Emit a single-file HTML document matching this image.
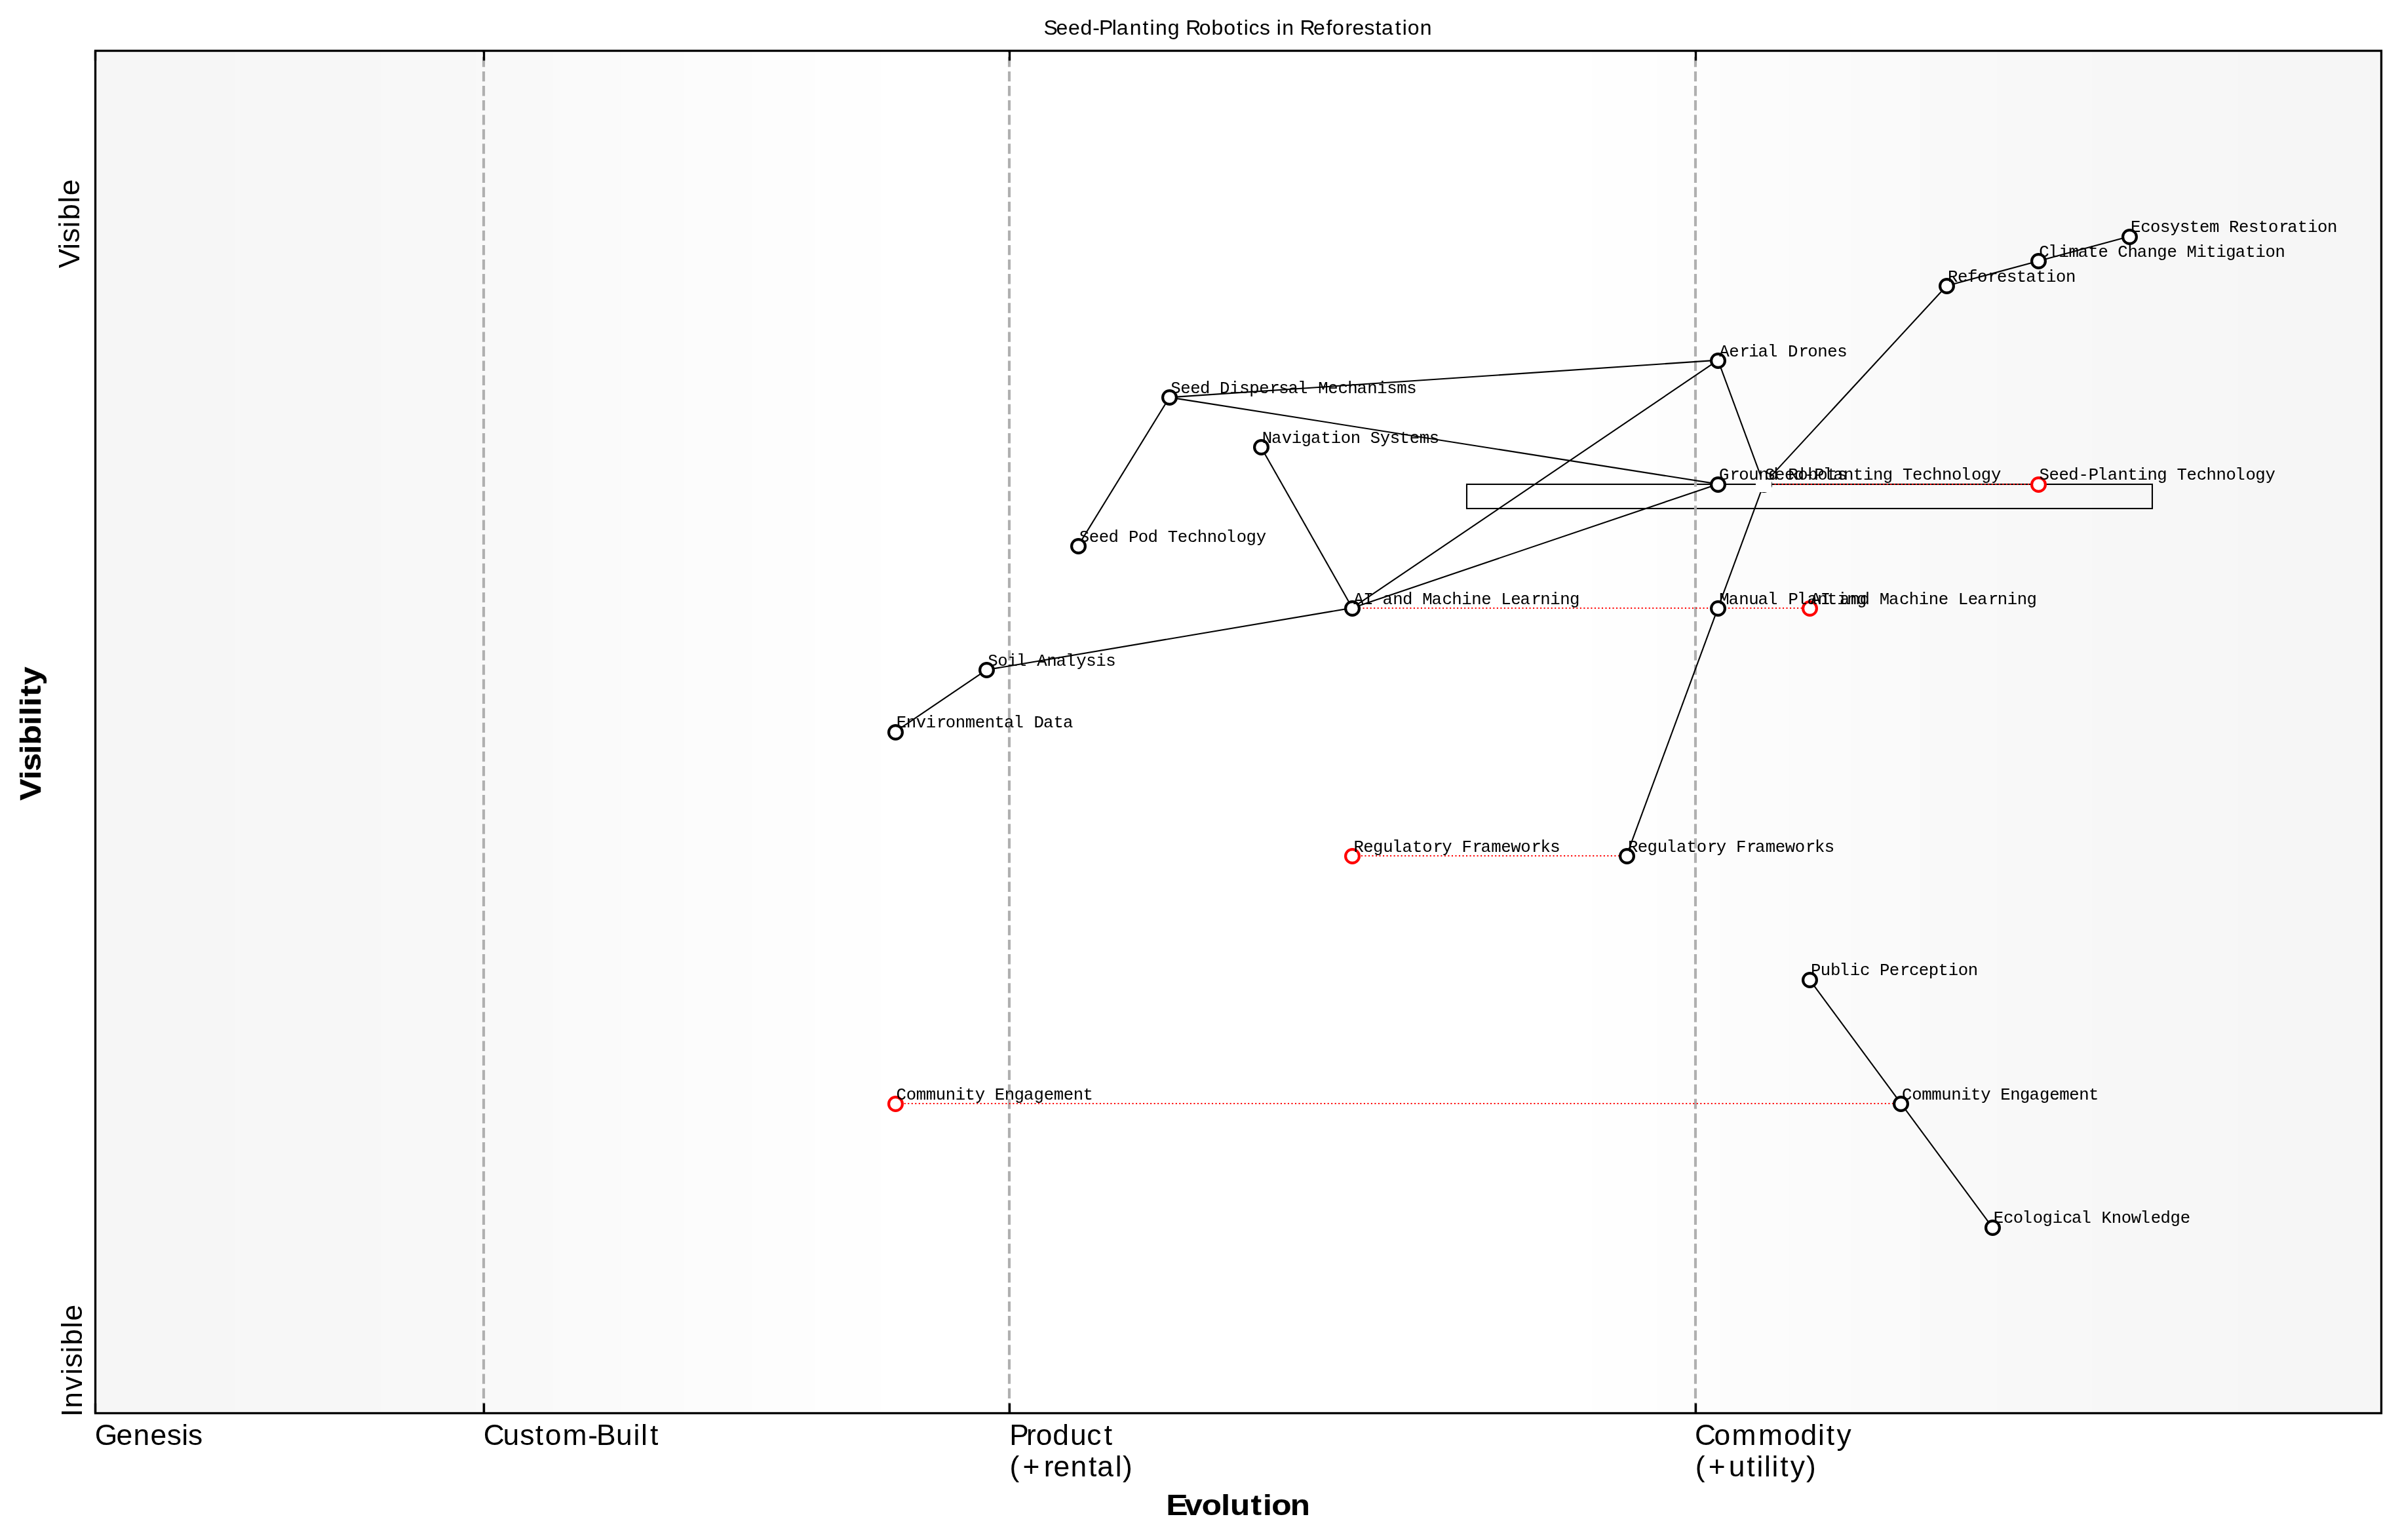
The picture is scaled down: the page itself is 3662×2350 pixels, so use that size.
<!DOCTYPE html>
<html lang="en"><head><meta charset="utf-8"><title>Seed-Planting Robotics in Reforestation</title>
<style>
html,body{margin:0;padding:0;background:#ffffff;}
body{width:3662px;height:2350px;overflow:hidden;position:relative;}
svg{position:absolute;left:0;top:0;display:block;will-change:transform;}
text{font-family:"Liberation Sans",sans-serif;fill:#000;white-space:pre;}
.mono{font-family:"Liberation Mono",monospace;}
.b{font-weight:bold;}
</style></head><body>
<svg width="3662" height="2350" viewBox="0 0 3662 2350">
<rect x="0" y="0" width="3662" height="2350" fill="#ffffff"/>
<g shape-rendering="crispEdges">
<rect x="145.5" y="77.5" width="212.5" height="2079" fill="#f6f6f6"/>
<rect x="358" y="77.5" width="223" height="2079" fill="#f7f7f7"/>
<rect x="581" y="77.5" width="145" height="2079" fill="#f8f8f8"/>
<rect x="726" y="77.5" width="118" height="2079" fill="#f9f9f9"/>
<rect x="844" y="77.5" width="104" height="2079" fill="#fafafa"/>
<rect x="948" y="77.5" width="96" height="2079" fill="#fbfbfb"/>
<rect x="1044" y="77.5" width="104" height="2079" fill="#fcfcfc"/>
<rect x="1148" y="77.5" width="96" height="2079" fill="#fdfdfd"/>
<rect x="1244" y="77.5" width="100" height="2079" fill="#fefefe"/>
<rect x="1344" y="77.5" width="1085" height="2079" fill="#ffffff"/>
<rect x="2429" y="77.5" width="100" height="2079" fill="#fefefe"/>
<rect x="2529" y="77.5" width="95" height="2079" fill="#fdfdfd"/>
<rect x="2624" y="77.5" width="105" height="2079" fill="#fcfcfc"/>
<rect x="2729" y="77.5" width="95" height="2079" fill="#fbfbfb"/>
<rect x="2824" y="77.5" width="105" height="2079" fill="#fafafa"/>
<rect x="2929" y="77.5" width="118" height="2079" fill="#f9f9f9"/>
<rect x="3047" y="77.5" width="145" height="2079" fill="#f8f8f8"/>
<rect x="3192" y="77.5" width="223" height="2079" fill="#f7f7f7"/>
<rect x="3415" y="77.5" width="218.5" height="2079" fill="#f6f6f6"/>
</g>
<rect x="2238" y="739" width="1046" height="37" fill="none" stroke="#000" stroke-width="2.0833"/>
<line x1="738" y1="2156" x2="738" y2="77.5" stroke="#b0b0b0" stroke-width="4.1667" stroke-dasharray="15.4167 6.6667"/>
<line x1="1540" y1="2156" x2="1540" y2="77.5" stroke="#b0b0b0" stroke-width="4.1667" stroke-dasharray="15.4167 6.6667"/>
<line x1="2587" y1="2156" x2="2587" y2="77.5" stroke="#b0b0b0" stroke-width="4.1667" stroke-dasharray="15.4167 6.6667"/>
<line x1="145.5" y1="2156.5" x2="145.5" y2="2141.5" stroke="#000" stroke-width="3.3333"/>
<line x1="145.5" y1="77.5" x2="145.5" y2="92.5" stroke="#000" stroke-width="3.3333"/>
<line x1="738.5" y1="2156.5" x2="738.5" y2="2141.5" stroke="#000" stroke-width="3.3333"/>
<line x1="738.5" y1="77.5" x2="738.5" y2="92.5" stroke="#000" stroke-width="3.3333"/>
<line x1="1540.5" y1="2156.5" x2="1540.5" y2="2141.5" stroke="#000" stroke-width="3.3333"/>
<line x1="1540.5" y1="77.5" x2="1540.5" y2="92.5" stroke="#000" stroke-width="3.3333"/>
<line x1="2587.5" y1="2156.5" x2="2587.5" y2="2141.5" stroke="#000" stroke-width="3.3333"/>
<line x1="2587.5" y1="77.5" x2="2587.5" y2="92.5" stroke="#000" stroke-width="3.3333"/>
<g stroke="#000" stroke-width="2.0833" stroke-linecap="butt" fill="none">
<line x1="3249.125" y1="360.650" x2="3109.625" y2="398.450"/>
<line x1="3109.625" y1="398.450" x2="2970.125" y2="436.250"/>
<line x1="2970.125" y1="436.250" x2="2691.125" y2="738.650"/>
<line x1="2691.125" y1="738.650" x2="2621.375" y2="549.650"/>
<line x1="2691.125" y1="739.000" x2="2621.375" y2="739.000"/>
<line x1="2691.125" y1="738.650" x2="2621.375" y2="927.650"/>
<line x1="2621.375" y1="549.650" x2="1784.375" y2="606.350"/>
<line x1="2621.375" y1="738.650" x2="1784.375" y2="606.350"/>
<line x1="2621.375" y1="549.650" x2="2063.375" y2="927.650"/>
<line x1="2621.375" y1="738.650" x2="2063.375" y2="927.650"/>
<line x1="1923.875" y1="681.950" x2="2063.375" y2="927.650"/>
<line x1="1784.375" y1="606.350" x2="1644.875" y2="833.150"/>
<line x1="2063.375" y1="927.650" x2="1505.375" y2="1022.150"/>
<line x1="1505.375" y1="1022.150" x2="1365.875" y2="1116.650"/>
<line x1="2621.375" y1="927.650" x2="2481.875" y2="1305.650"/>
<line x1="2760.875" y1="1494.650" x2="2900.375" y2="1683.650"/>
<line x1="2900.375" y1="1683.650" x2="3039.875" y2="1872.650"/>
</g>
<g stroke="#ff0000" stroke-width="2.0833" stroke-dasharray="2.0833 3.4375" fill="none">
<line x1="2691" y1="739" x2="3110" y2="739"/>
<line x1="2063" y1="928" x2="2761" y2="928"/>
<line x1="2482" y1="1306" x2="2063" y2="1306"/>
<line x1="2900" y1="1684" x2="1366" y2="1684"/>
</g>
<g fill="#ffffff" stroke="#000" stroke-width="4.1667">
<circle cx="3249.5" cy="361.5" r="10.4167"/>
<circle cx="3110.5" cy="398.5" r="10.4167"/>
<circle cx="2970.5" cy="436.5" r="10.4167"/>
<circle cx="2621.5" cy="550.5" r="10.4167"/>
<circle cx="1784.5" cy="606.5" r="10.4167"/>
<circle cx="1924.5" cy="682.5" r="10.4167"/>
<circle cx="2621.5" cy="739.5" r="10.4167"/>
<circle cx="1645.5" cy="833.5" r="10.4167"/>
<circle cx="2063.5" cy="928.5" r="10.4167"/>
<circle cx="2621.5" cy="928.5" r="10.4167"/>
<circle cx="1505.5" cy="1022.5" r="10.4167"/>
<circle cx="1366.5" cy="1117.5" r="10.4167"/>
<circle cx="2482.5" cy="1306.5" r="10.4167"/>
<circle cx="2761.5" cy="1495.5" r="10.4167"/>
<circle cx="2900.5" cy="1684.5" r="10.4167"/>
<circle cx="3040.5" cy="1873.5" r="10.4167"/>
<circle cx="2691.5" cy="739.5" r="10.4167"/>
</g>
<rect x="2679" y="727" width="24" height="24" fill="#ffffff" shape-rendering="crispEdges"/>
<g fill="#ffffff" stroke="#ff0000" stroke-width="4.1667">
<circle cx="3110.5" cy="739.5" r="10.4167"/>
<circle cx="2761.5" cy="928.5" r="10.4167"/>
<circle cx="2063.5" cy="1306.5" r="10.4167"/>
<circle cx="1366.5" cy="1684.5" r="10.4167"/>
</g>
<rect x="145.5" y="77.5" width="3488" height="2079" fill="none" stroke="#000" stroke-width="3.3333"/>
<text transform="translate(144.75 2205.00) scale(1.0200 1)" font-size="43.54" y="0" x="0.10 32.16 57.67 83.14 107.77 129.90 139.41">Genesis</text>
<text transform="translate(737.62 2205.00) scale(1.0200 1)" font-size="43.54" y="0" x="0.08 29.30 54.46 77.58 92.19 118.54 156.49 169.02 198.42 224.39 235.64 249.34">Custom-Built</text>
<text transform="translate(1539.75 2205.00) scale(1.0200 1)" font-size="43.54" y="0" x="0.44 25.82 40.23 65.32 91.31 116.28 142.11">Product</text>
<text transform="translate(1539.75 2253.00) scale(1.0200 1)" font-size="43.54" y="0" x="0.81 20.34 51.92 66.47 91.98 118.76 131.82 158.80 169.87">(+rental)</text>
<text transform="translate(2586.00 2205.00) scale(1.0200 1)" font-size="43.54" y="0" x="0.08 28.95 55.30 95.01 133.24 158.34 184.44 196.70 212.18">Commodity</text>
<text transform="translate(2586.00 2253.00) scale(1.0200 1)" font-size="43.54" y="0" x="0.81 20.34 50.75 77.71 92.77 104.02 115.32 127.58 142.98 166.56">(+utility)</text>
<text transform="translate(1778.88 2312.00) scale(1.1200 1)" font-size="44.17" y="0" x="0.46 25.31 48.96 75.37 87.57 115.64 132.29 144.04 169.54" class="b" stroke="#000" stroke-width="0.22">Evolution</text>
<text transform="translate(125.00 2162.10) rotate(-90) scale(1.0200 1)" font-size="43.54" y="0" x="-0.01 13.06 39.19 62.99 73.45 95.59 107.11 132.70 143.81">Invisible</text>
<text transform="translate(121.00 409.30) rotate(-90) scale(1.0200 1)" font-size="43.54" y="0" x="0.13 27.94 38.40 60.54 72.06 97.65 108.77">Visible</text>
<text transform="translate(61.50 1221.30) rotate(-90) scale(1.1200 1)" font-size="44.17" y="0" x="-0.12 28.39 39.85 63.21 75.67 102.61 115.33 128.05 141.87 157.51" class="b" stroke="#000" stroke-width="0.42">Visibility</text>
<text transform="translate(3251.12 354.00) scale(0.9700 1)" font-size="26.50" y="0" x="-0.13 15.54 30.75 46.27 61.83 77.20 92.29 108.08 123.63 138.98 154.63 169.94 185.45 200.54 216.31 233.18 246.59 262.40 278.14 293.63 309.17" class="mono" stroke="#000" stroke-width="0.06">Ecosystem Restoration</text>
<text transform="translate(3111.62 392.00) scale(0.9700 1)" font-size="26.50" y="0" x="-0.49 14.03 30.72 46.31 61.02 76.83 92.62 108.05 123.22 139.03 153.81 170.00 185.15 200.86 216.30 231.76 247.21 262.40 278.14 293.40 308.45 324.25 339.99 355.49 371.03" class="mono" stroke="#000" stroke-width="0.06">Climate Change Mitigation</text>
<text transform="translate(2972.12 430.00) scale(0.9700 1)" font-size="26.50" y="0" x="-0.00 15.30 30.84 46.21 63.07 77.15 92.67 107.76 122.88 138.68 154.43 169.92 185.46" class="mono" stroke="#000" stroke-width="0.06">Reforestation</text>
<text transform="translate(2623.38 544.00) scale(0.9700 1)" font-size="26.50" y="0" x="-0.19 15.30 32.15 46.18 61.02 75.88 92.59 107.74 124.93 139.00 154.53 169.94 185.45" class="mono" stroke="#000" stroke-width="0.06">Aerial Drones</text>
<text transform="translate(1786.38 600.00) scale(0.9700 1)" font-size="26.50" y="0" x="-0.03 15.30 30.76 46.04 61.66 76.81 92.57 108.13 123.67 139.01 155.86 169.99 184.73 199.60 216.30 231.76 247.26 262.96 278.21 292.98 309.17 324.53 340.09 355.59 371.02" class="mono" stroke="#000" stroke-width="0.06">Seed Dispersal Mechanisms</text>
<text transform="translate(1925.88 676.00) scale(0.9700 1)" font-size="26.50" y="0" x="-0.19 14.63 30.74 46.18 61.44 76.49 92.29 108.04 123.53 139.07 154.45 170.08 185.54 200.91 216.00 231.79 247.34 262.77" class="mono" stroke="#000" stroke-width="0.06">Navigation Systems</text>
<text transform="translate(2623.38 732.00) scale(0.9700 1)" font-size="26.50" y="0" x="-0.28 16.68 30.75 46.21 61.75 76.97 92.59 108.24 123.53 139.18 154.46 169.61 185.45" class="mono" stroke="#000" stroke-width="0.06">Ground Robots</text>
<text transform="translate(1646.88 827.00) scale(0.9700 1)" font-size="26.50" y="0" x="-0.03 15.30 30.76 46.04 61.66 77.45 92.60 107.90 123.52 138.99 154.47 170.18 185.42 200.93 216.31 230.52 247.24 262.47 278.32" class="mono" stroke="#000" stroke-width="0.06">Seed Pod Technology</text>
<text transform="translate(2065.38 922.00) scale(0.9700 1)" font-size="26.50" y="0" x="-0.19 15.27 30.73 45.56 61.75 76.97 92.59 108.05 122.88 139.25 154.50 169.89 185.46 200.86 216.30 231.83 247.26 262.05 279.57 293.71 309.07 324.64 339.79" class="mono" stroke="#000" stroke-width="0.06">AI and Machine Learning</text>
<text transform="translate(2623.38 922.00) scale(0.9700 1)" font-size="26.50" y="0" x="-0.20 14.63 30.82 46.21 61.02 75.88 92.59 108.38 122.28 138.34 154.53 169.61 185.35 200.93 216.08" class="mono" stroke="#000" stroke-width="0.06">Manual Planting</text>
<text transform="translate(1507.38 1016.00) scale(0.9700 1)" font-size="26.50" y="0" x="-0.03 15.28 30.72 44.96 61.66 77.13 92.68 107.41 122.28 139.15 154.52 169.89 185.45" class="mono" stroke="#000" stroke-width="0.06">Soil Analysis</text>
<text transform="translate(1367.88 1110.00) scale(0.9700 1)" font-size="26.50" y="0" x="-0.13 15.36 30.74 46.18 63.07 77.14 92.68 108.16 123.54 139.07 154.15 169.27 184.13 200.84 215.99 231.13 246.93 262.05" class="mono" stroke="#000" stroke-width="0.06">Environmental Data</text>
<text transform="translate(2483.88 1300.00) scale(0.9700 1)" font-size="26.50" y="0" x="-0.00 15.30 30.51 46.21 60.42 76.49 92.29 108.07 124.93 139.15 154.45 170.29 186.79 200.20 216.41 231.79 247.23 262.71 279.57 294.06 309.16" class="mono" stroke="#000" stroke-width="0.06">Regulatory Frameworks</text>
<text transform="translate(2762.88 1488.00) scale(0.9700 1)" font-size="26.50" y="0" x="0.13 15.28 30.93 44.96 61.64 77.39 92.59 108.38 123.54 140.39 154.71 169.94 185.52 200.54 216.28 231.78 247.32" class="mono" stroke="#000" stroke-width="0.06">Public Perception</text>
<text transform="translate(2902.38 1678.00) scale(0.9700 1)" font-size="26.50" y="0" x="-0.49 15.28 30.84 46.31 61.67 77.21 92.57 107.76 123.68 138.98 154.51 170.00 185.15 200.20 216.08 231.79 247.34 262.72 278.25 293.32" class="mono" stroke="#000" stroke-width="0.06">Community Engagement</text>
<text transform="translate(3041.88 1866.00) scale(0.9700 1)" font-size="26.50" y="0" x="-0.13 15.54 30.75 44.96 61.68 76.91 92.57 108.32 122.88 137.74 154.45 169.69 185.46 200.85 216.30 230.52 247.26 262.54 277.94 293.65" class="mono" stroke="#000" stroke-width="0.06">Ecological Knowledge</text>
<text transform="translate(2693.12 732.00) scale(0.9700 1)" font-size="26.50" y="0" x="-0.03 15.30 30.76 46.04 61.67 77.45 91.35 107.41 123.61 138.68 154.43 170.00 185.15 200.84 216.31 231.79 247.50 262.74 278.25 293.63 307.84 324.56 339.79 355.64" class="mono" stroke="#000" stroke-width="0.06">Seed-Planting Technology</text>
<text transform="translate(3111.62 732.00) scale(0.9700 1)" font-size="26.50" y="0" x="-0.03 15.30 30.76 46.04 61.67 77.45 91.35 107.41 123.61 138.68 154.43 170.00 185.15 200.84 216.31 231.79 247.50 262.74 278.25 293.63 307.84 324.56 339.79 355.64" class="mono" stroke="#000" stroke-width="0.06">Seed-Planting Technology</text>
<text transform="translate(2762.88 922.00) scale(0.9700 1)" font-size="26.50" y="0" x="-0.19 15.27 30.73 45.56 61.75 76.97 92.59 108.05 122.88 139.25 154.50 169.89 185.46 200.86 216.30 231.83 247.26 262.05 279.57 293.71 309.07 324.64 339.79" class="mono" stroke="#000" stroke-width="0.06">AI and Machine Learning</text>
<text transform="translate(2065.38 1300.00) scale(0.9700 1)" font-size="26.50" y="0" x="-0.00 15.30 30.51 46.21 60.42 76.49 92.29 108.07 124.93 139.15 154.45 170.29 186.79 200.20 216.41 231.79 247.23 262.71 279.57 294.06 309.16" class="mono" stroke="#000" stroke-width="0.06">Regulatory Frameworks</text>
<text transform="translate(1367.88 1678.00) scale(0.9700 1)" font-size="26.50" y="0" x="-0.49 15.28 30.84 46.31 61.67 77.21 92.57 107.76 123.68 138.98 154.51 170.00 185.15 200.20 216.08 231.79 247.34 262.72 278.25 293.32" class="mono" stroke="#000" stroke-width="0.06">Community Engagement</text>
<text transform="translate(1592.06 53.00) scale(1.0200 1)" font-size="31.35" y="0" x="0.52 19.02 37.15 55.35 73.74 83.21 102.69 109.59 129.10 148.39 159.20 167.58 185.98 204.61 212.96 233.01 251.53 269.77 288.83 299.64 307.25 323.56 339.17 348.78 357.16 375.44 383.80 403.94 422.89 432.39 451.50 462.15 479.94 496.55 505.92 526.09 536.89 544.89 563.37" stroke="#000" stroke-width="0.05">Seed-Planting Robotics in Reforestation</text>
</svg>
</body></html>
